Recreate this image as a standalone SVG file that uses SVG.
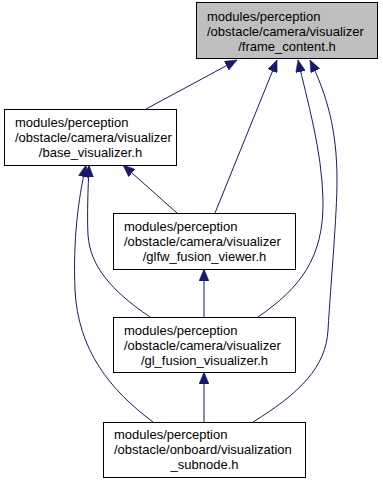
<svg xmlns="http://www.w3.org/2000/svg" width="383" height="483" viewBox="0 0 383 483">
  <style>
    .box { fill: #ffffff; stroke: #000000; stroke-width: 1; }
    .root { fill: #bfbfbf; }
    .lbl { font-family: "Liberation Sans", Arial, Helvetica, sans-serif; font-size: 13px; fill: #000000; }
    .mid { text-anchor: middle; }
    .edge { fill: none; stroke: #191970; stroke-width: 1; marker-end: url(#arrow); }
  </style>
  <defs>
    <marker id="arrow" viewBox="0 0 12 10" refX="12" refY="5" markerWidth="12" markerHeight="10" markerUnits="userSpaceOnUse" orient="auto">
      <path d="M0,0 L12,5 L0,10 z" fill="#191970" stroke="#191970" stroke-width="0.5"/>
    </marker>
  </defs>
  <rect width="383" height="483" fill="#ffffff"/>

  <g id="edges">
    <path class="edge" d="M146,109 L237,60"/>
    <path class="edge" d="M215,213 L277,60"/>
    <path class="edge" d="M258,317 C300,288 324,258 323,200 C322,150 307,100 298,60"/>
    <path class="edge" d="M253,422 C300,393 326,367 328,330 C331,280 337,215 337,180 C337,130 327,95 310,60"/>
    <path class="edge" d="M177,213 L123,165"/>
    <path class="edge" d="M150,317 C110,290 90,265 88,235 C87,215 88,190 89,165"/>
    <path class="edge" d="M153,422 C110,390 78,350 75,290 C73,240 78,200 86,165"/>
    <path class="edge" d="M204,317 L204,269"/>
    <path class="edge" d="M204,422 L204,372"/>
  </g>

  <g id="frame_content">
    <rect class="box root" x="196.5" y="2.5" width="181" height="56"/>
    <text class="lbl" x="207" y="20.5">modules/perception</text>
    <text class="lbl" x="207" y="35.5">/obstacle/camera/visualizer</text>
    <text class="lbl mid" x="287" y="50.5">/frame_content.h</text>
  </g>

  <g id="base_visualizer">
    <rect class="box" x="4.5" y="109.5" width="172" height="56"/>
    <text class="lbl" x="15" y="127">modules/perception</text>
    <text class="lbl" x="15" y="142">/obstacle/camera/visualizer</text>
    <text class="lbl mid" x="90.5" y="157">/base_visualizer.h</text>
  </g>

  <g id="glfw_fusion_viewer">
    <rect class="box" x="113.5" y="213.5" width="182" height="56"/>
    <text class="lbl" x="124" y="231">modules/perception</text>
    <text class="lbl" x="124" y="246">/obstacle/camera/visualizer</text>
    <text class="lbl mid" x="204.5" y="261">/glfw_fusion_viewer.h</text>
  </g>

  <g id="gl_fusion_visualizer">
    <rect class="box" x="113.5" y="317.5" width="182" height="55"/>
    <text class="lbl" x="124" y="334.5">modules/perception</text>
    <text class="lbl" x="124" y="349.5">/obstacle/camera/visualizer</text>
    <text class="lbl mid" x="204.5" y="364.5">/gl_fusion_visualizer.h</text>
  </g>

  <g id="visualization_subnode">
    <rect class="box" x="103.5" y="422.5" width="202" height="55"/>
    <text class="lbl" x="114" y="439">modules/perception</text>
    <text class="lbl" x="114" y="454">/obstacle/onboard/visualization</text>
    <text class="lbl mid" x="204.5" y="469">_subnode.h</text>
  </g>
</svg>
